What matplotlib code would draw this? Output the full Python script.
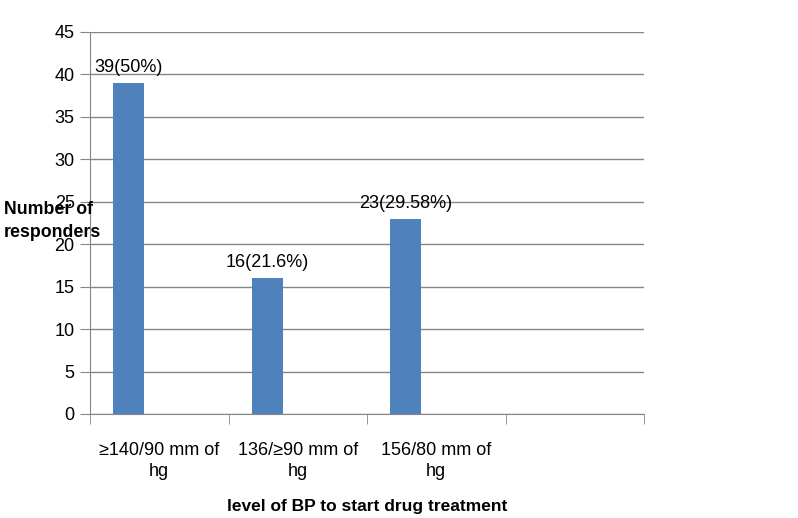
import numpy as np
import matplotlib.pyplot as plt

plt.rcParams['font.family'] = ['Liberation Sans', 'DejaVu Sans']

# datos
categorias = ['≥140/90 mm of\nhg', '136/≥90 mm of\nhg', '156/80 mm of\nhg', '']
valores = [39, 16, 23, np.nan]
etiquetas = ['39(50%)', '16(21.6%)', '23(29.58%)', '']

fig = plt.figure(figsize=(7.98, 5.18), dpi=100)
ax = fig.add_axes([90/798, 1-414/518, (644-90)/798, (414-32)/518])

x = np.arange(len(categorias))
barras = ax.bar(x - 0.22, valores, width=0.225, color='#4F81BD', zorder=3)

for xi, v, t in zip(x, valores, etiquetas):
    if t:
        ax.annotate(t, (xi - 0.22, v), xytext=(0, 5), textcoords='offset points',
                    ha='center', va='bottom', fontsize=13)

ax.set_xlim(-0.5, len(categorias) - 0.5)
ax.set_ylim(0, 45)
ax.set_yticks(np.arange(0, 46, 5))
ax.yaxis.grid(True, color='#868686', linewidth=1, zorder=0)

ax.set_xticks(x)
ax.set_xticklabels(categorias, fontsize=13, linespacing=1.3)
ax.set_xticks(np.arange(-0.5, len(categorias)), minor=True)
ax.tick_params(axis='x', which='major', length=0, pad=20)
ax.tick_params(axis='x', which='minor', length=7, color='#868686')
ax.tick_params(axis='y', length=7, color='#868686', labelsize=13, pad=4)

for s in ['top', 'right']:
    ax.spines[s].set_visible(False)
for s in ['left', 'bottom']:
    ax.spines[s].set_color('#868686')

# el título del eje y va en horizontal, encima de las etiquetas como en el original
fig.text(4/798, 1-221/518, 'Number of\nresponders', fontsize=12.8, fontweight='bold',
         ha='left', va='center', linespacing=1.45)
fig.text(367/798, 1-507/518, 'level of BP to start drug treatment', fontsize=12.5,
         fontweight='bold', ha='center', va='center')

fig.savefig('out.png', dpi=100)
